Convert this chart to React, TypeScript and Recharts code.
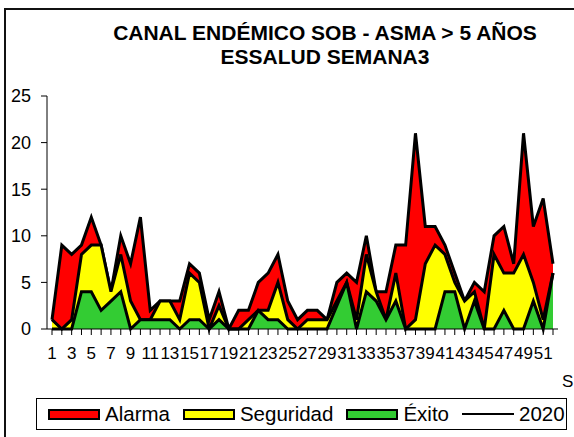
import { ComposedChart, Area, Line, XAxis, YAxis, Legend } from "recharts";

const FONT = '"Liberation Sans", Arial, sans-serif';

// semanas epidemiológicas 1..52
const weeks = Array.from({ length: 52 }, (_, i) => String(i + 1));

const alarma = [
  1, 9, 8, 9, 12, 9, 4, 10, 7, 12,
  2, 3, 3, 3, 7, 6, 1, 4, 0, 2,
  2, 5, 6, 8, 3, 1, 2, 2, 1, 5,
  6, 5, 10, 4, 4, 9, 9, 21, 11, 11,
  9, 6, 3, 5, 4, 10, 11, 7, 21, 11,
  14, 7,
];
const seguridad = [
  1, 0, 1, 8, 9, 9, 4, 8, 3, 1,
  1, 3, 3, 1, 6, 5, 0, 2.5, 0, 0,
  1, 2, 2, 5, 1, 0, 1, 1, 1, 3,
  5, 1, 8, 4, 1, 6, 0, 1, 7, 9,
  8, 5, 3, 4, 0, 8, 6, 6, 8, 5,
  1, 6,
];
const exito = [
  0, 0, 0, 4, 4, 2, 3, 4, 0, 1,
  1, 1, 1, 0, 1, 1, 0, 1, 0, 0,
  0, 2, 1, 1, 0, 0, 0, 0, 0, 2.5,
  5, 0, 4, 3, 1, 3, 0, 0, 0, 0,
  4, 4, 0, 3, 0, 0, 2, 0, 0, 3,
  0, 6,
];
const casos2020 = [1, 0, 1];

const yTicks = [0, 5, 10, 15, 20, 25];

const RED = "#ff0000";
const YELLOW = "#ffff00";
const GREEN = "#33cc33";

const data = weeks.map((w, i) => ({
  week: w,
  alarma: alarma[i],
  seguridad: seguridad[i],
  exito: exito[i],
  y2020: casos2020[i],
}));

const legendItems = [
  { name: "Alarma", color: RED, kind: "area" },
  { name: "Seguridad", color: YELLOW, kind: "area" },
  { name: "Éxito", color: GREEN, kind: "area" },
  { name: "2020", color: "#000", kind: "line" },
];

function LegendBox() {
  return (
    <div
      style={{
        display: "flex",
        alignItems: "center",
        height: 32,
        boxSizing: "border-box",
        border: "1px solid #000",
        paddingLeft: 11,
        fontSize: 20.5,
        fontFamily: FONT,
        color: "#000",
        background: "#fff",
        whiteSpace: "nowrap",
      }}
    >
      {legendItems.map((it) => (
        <div key={it.name} style={{ display: "flex", alignItems: "center", marginRight: 13 }}>
          {it.kind === "area" ? (
            <span
              style={{
                display: "inline-block",
                width: 52,
                height: 11,
                boxSizing: "border-box",
                border: "2px solid #000",
                background: it.color,
              }}
            />
          ) : (
            <span style={{ display: "inline-block", width: 52, height: 2, background: "#000" }} />
          )}
          <span style={{ marginLeft: 5 }}>{it.name}</span>
        </div>
      ))}
    </div>
  );
}

export default function App() {
  return (
    <div
      style={{
        position: "absolute",
        left: 4,
        top: 8,
        width: 568,
        height: 427,
        borderTop: "2px solid #111",
        borderLeft: "2px solid #111",
        overflow: "hidden",
        background: "#fff",
      }}
    >
      <div
        style={{
          position: "absolute",
          top: 11,
          left: 69,
          width: 500,
          textAlign: "center",
          fontFamily: FONT,
          fontWeight: "bold",
          fontSize: 21,
          lineHeight: "24px",
          color: "#000",
          zIndex: 2,
          pointerEvents: "none",
        }}
      >
        CANAL ENDÉMICO SOB - ASMA &gt; 5 AÑOS
        <br />
        ESSALUD SEMANA3
      </div>
      <ComposedChart
        width={568}
        height={427}
        data={data}
        margin={{ top: 86, right: 16, left: 0, bottom: 0 }}
      >
        <XAxis
          dataKey="week"
          interval={0}
          padding={{ left: 5, right: 5 }}
          height={76}
          tickSize={6}
          tickMargin={12}
          axisLine={{ stroke: "#000" }}
          tickLine={{ stroke: "#000" }}
          tick={{ fontSize: 17, fill: "#000", fontFamily: FONT }}
          tickFormatter={(v: string, i: number) => (i % 2 === 0 ? v : "")}
          label={{
            content: ({ viewBox }: any) => (
              <text
                x={viewBox.x + viewBox.width + 4}
                y={viewBox.y + 58}
                fontSize={17}
                fontFamily={FONT}
                fill="#000"
              >
                S
              </text>
            ),
          }}
        />
        <XAxis
          xAxisId="top"
          dataKey="week"
          orientation="top"
          height={0}
          tick={false}
          tickLine={false}
          axisLine={{ stroke: "#000" }}
        />
        <YAxis
          domain={[0, 25]}
          ticks={yTicks}
          width={41}
          tickSize={6}
          tickMargin={10}
          axisLine={{ stroke: "#000" }}
          tickLine={{ stroke: "#000" }}
          tick={{ fontSize: 18, fill: "#000", fontFamily: FONT }}
        />
        <YAxis
          yAxisId="right"
          orientation="right"
          width={0}
          tick={false}
          tickLine={false}
          axisLine={{ stroke: "#777", strokeWidth: 2 }}
        />
        <Area
          type="linear"
          dataKey="alarma"
          name="Alarma"
          fill={RED}
          fillOpacity={1}
          stroke="#000"
          strokeWidth={3}
          dot={false}
          activeDot={false}
          isAnimationActive={false}
        />
        <Area
          type="linear"
          dataKey="seguridad"
          name="Seguridad"
          fill={YELLOW}
          fillOpacity={1}
          stroke="#000"
          strokeWidth={3}
          dot={false}
          activeDot={false}
          isAnimationActive={false}
        />
        <Area
          type="linear"
          dataKey="exito"
          name="Éxito"
          fill={GREEN}
          fillOpacity={1}
          stroke="#000"
          strokeWidth={3}
          dot={false}
          activeDot={false}
          isAnimationActive={false}
        />
        <Line
          type="linear"
          dataKey="y2020"
          name="2020"
          stroke="#000"
          strokeWidth={2}
          dot={false}
          activeDot={false}
          isAnimationActive={false}
        />
        <Legend
          verticalAlign="bottom"
          wrapperStyle={{ top: 388, left: 30, width: 531, height: 32 }}
          content={() => <LegendBox />}
        />
      </ComposedChart>
    </div>
  );
}
